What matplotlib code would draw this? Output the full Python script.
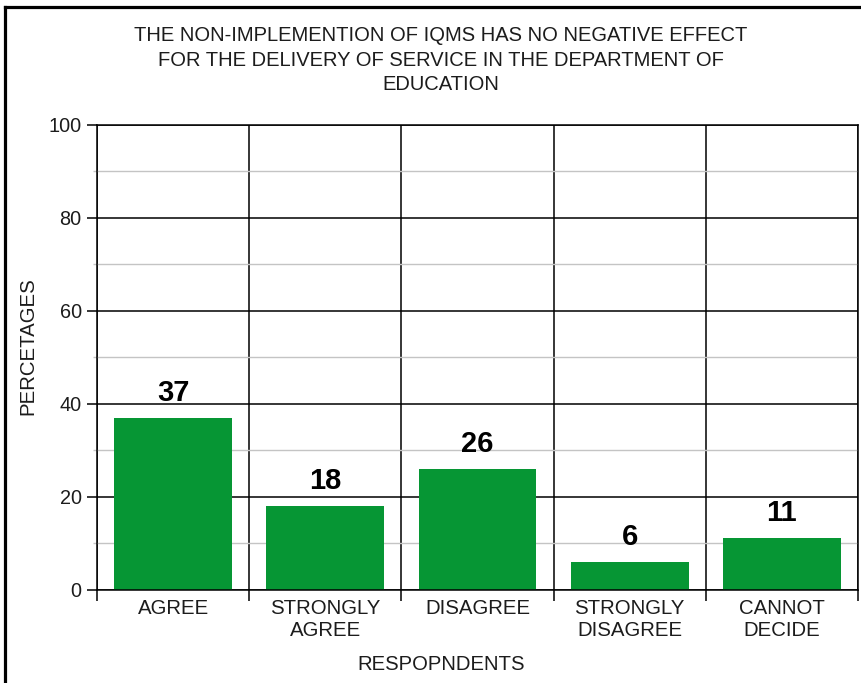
import matplotlib.pyplot as plt
from matplotlib.lines import Line2D
from matplotlib.ticker import MultipleLocator, FixedLocator

plt.rcParams['font.family'] = ['Liberation Sans', 'DejaVu Sans']

categories = ['AGREE', 'STRONGLY\nAGREE', 'DISAGREE', 'STRONGLY\nDISAGREE', 'CANNOT\nDECIDE']
percentages = [37, 18, 26, 6, 11]

text_col = '#1c1c1c'
bar_col = '#069634'

fig = plt.figure(figsize=(8.62, 6.83), dpi=100)
ax = fig.add_axes([97 / 862, 1 - 589.5 / 683, 761 / 862, 464.5 / 683])

x = list(range(len(categories)))
ax.bar(x, percentages, width=0.775, color=bar_col, zorder=3)

for xi, v in zip(x, percentages):
    ax.annotate(str(v), (xi, v), xytext=(0, 8), textcoords='offset points',
                ha='center', va='bottom', fontsize=21, fontweight='bold',
                color='black', zorder=4)

ax.set_xlim(-0.5, len(categories) - 0.5)
ax.set_ylim(0, 100)

# y grid: black majors every 20, grey minors in between
ax.yaxis.set_major_locator(MultipleLocator(20))
ax.yaxis.set_minor_locator(MultipleLocator(10))
ax.grid(axis='y', which='major', color='black', lw=1.1, zorder=1)
ax.grid(axis='y', which='minor', color='#c4c4c4', lw=1.0, zorder=1)
ax.tick_params(axis='y', which='major', length=7, width=1.1, colors='black',
               labelcolor=text_col, labelsize=14.3, pad=4)
ax.tick_params(axis='y', which='minor', length=3, width=1.0, colors='#c4c4c4')

# x: separator lines between categories, labels centred on bars
bounds = [i - 0.5 for i in range(len(categories) + 1)]
ax.xaxis.set_major_locator(FixedLocator(bounds))
ax.xaxis.set_major_formatter(plt.NullFormatter())
ax.xaxis.set_minor_locator(FixedLocator(x))
ax.set_xticklabels(categories, minor=True)
ax.grid(axis='x', which='major', color='black', lw=1.1, zorder=1)
ax.tick_params(axis='x', which='major', length=8, width=1.1, colors='black')
ax.tick_params(axis='x', which='minor', length=0, labelsize=14.7,
               labelcolor=text_col, pad=7)
for lbl in ax.get_xticklabels(minor=True):
    lbl.set_linespacing(1.2)

for s in ax.spines.values():
    s.set_color('black')
    s.set_linewidth(1.1)
    s.set_zorder(5)

fig.text(441 / 862, 1 - 60 / 683,
         'THE NON-IMPLEMENTION OF IQMS HAS NO NEGATIVE EFFECT\n'
         'FOR THE DELIVERY OF SERVICE IN THE DEPARTMENT OF\nEDUCATION',
         ha='center', va='center', fontsize=14.5, color=text_col, linespacing=1.35)
fig.text(441 / 862, 1 - 664.5 / 683, 'RESPOPNDENTS', ha='center', va='center',
         fontsize=14.6, color=text_col)
fig.text(28 / 862, 1 - 346 / 683, 'PERCETAGES', ha='center', va='center',
         rotation=90, fontsize=14.7, color=text_col)

# frame round the chart (left and top edges)
fig.add_artist(Line2D([5.5 / 862, 5.5 / 862], [0, 1 - 7 / 683],
                      color='black', lw=2.3, transform=fig.transFigure))
fig.add_artist(Line2D([5.5 / 862, 1], [1 - 7 / 683, 1 - 7 / 683],
                      color='black', lw=2.3, transform=fig.transFigure))

fig.savefig('out.png', dpi=100, facecolor='white')
